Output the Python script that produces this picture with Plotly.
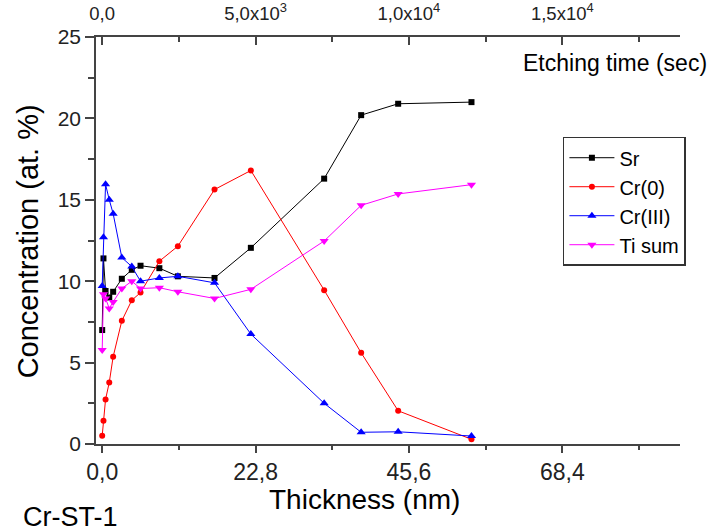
import plotly.graph_objects as go

# ---- data ----
thickness = [0, 0.19, 0.5, 1.05, 1.63, 2.92, 4.4, 5.7, 8.5, 11.25, 16.7, 22.1, 33.0, 38.5, 44.0, 54.9]
sr = [7.0, 11.4, 9.4, 9.0, 9.35, 10.15, 10.7, 10.95, 10.8, 10.3, 10.2, 12.05, 16.3, 20.2, 20.9, 21.0]
cr0 = [0.5, 1.43, 2.74, 3.78, 5.36, 7.57, 8.83, 9.3, 11.23, 12.15, 15.63, 16.8, 9.45, 5.6, 2.04, 0.29]
cr3 = [9.7, 12.7, 15.95, 15.0, 14.15, 11.45, 10.9, 10.0, 10.2, 10.3, 9.9, 6.75, 2.5, 0.72, 0.75, 0.49]
ti_sum = [5.77, 9.2, 8.94, 8.33, 8.73, 9.55, 10.0, 9.55, 9.6, 9.35, 8.94, 9.5, 12.47, 14.66, 15.36, 15.93]

bottom_ticks = [0, 22.8, 45.6, 68.4]
top_tickvals = [0, 5000, 10000, 15000]
top_ticktext = ["0,0", "5,0x10<sup>3</sup>", "1,0x10<sup>4</sup>", "1,5x10<sup>4</sup>"]
sec_per_nm = 5000 / 22.8

x_range = [-0.92, 85.9]
y_range = [0, 25]

NARROW = "Liberation Sans Narrow, Arial Narrow, Liberation Sans, Arial, sans-serif"
SANS = "Liberation Sans, Arial, sans-serif"
AX = "#444444"

fig = go.Figure()
series = [
    ("Sr", sr, "#000000", "square", 6),
    ("Cr(0)", cr0, "#FF0000", "circle", 6),
    ("Cr(III)", cr3, "#0000FF", "triangle-up", 8),
    ("Ti sum", ti_sum, "#FF00FF", "triangle-down", 8),
]
for name, vals, col, sym, sz in series:
    fig.add_trace(go.Scatter(
        x=thickness, y=vals, name=name, mode="lines+markers",
        line=dict(color=col, width=1),
        marker=dict(symbol=sym, size=sz, color=col, line=dict(width=0)),
    ))
# carrier for the top (etching time) axis
fig.add_trace(go.Scatter(x=[None], y=[None], xaxis="x2", showlegend=False, hoverinfo="skip"))

fig.update_layout(
    width=716, height=531,
    margin=dict(l=96, r=36, t=37, b=87, pad=0, autoexpand=False),
    paper_bgcolor="white", plot_bgcolor="white",
    separators=",.",
    showlegend=True,
    xaxis=dict(
        range=x_range, tickvals=bottom_ticks, tickformat=".1f", automargin=False,
        showline=True, linecolor=AX, linewidth=1.6,
        ticks="outside", ticklen=7, tickwidth=1.5, tickcolor=AX,
        minor=dict(dtick=11.4, tick0=0, ticks="outside", ticklen=4, tickwidth=1.5, tickcolor=AX),
        showgrid=False, zeroline=False,
        tickfont=dict(family=NARROW, size=23, color="#222222"),
    ),
    xaxis2=dict(
        range=[x_range[0] * sec_per_nm, x_range[1] * sec_per_nm],
        overlaying="x", side="top", anchor="y", automargin=False,
        tickvals=top_tickvals, ticktext=top_ticktext,
        showline=True, linecolor=AX, linewidth=1.6,
        ticks="inside", ticklen=8, tickwidth=1.5, tickcolor=AX,
        minor=dict(dtick=2500, tick0=0, ticks="inside", ticklen=5, tickwidth=1.5, tickcolor=AX),
        showgrid=False, zeroline=False,
        ticklabelstandoff=8,
        tickfont=dict(family=NARROW, size=18.5, color="#222222"),
    ),
    yaxis=dict(
        range=y_range, dtick=5, tick0=0, automargin=False,
        showline=True, linecolor=AX, linewidth=1.6,
        ticks="outside", ticklen=9, tickwidth=1.5, tickcolor=AX,
        minor=dict(dtick=2.5, tick0=0, ticks="outside", ticklen=6, tickwidth=1.5, tickcolor=AX),
        showgrid=False, zeroline=False,
        tickfont=dict(family=SANS, size=21, color="#222222"),
    ),
    legend=dict(
        x=0.7995, y=0.755, xanchor="left", yanchor="top",
        bgcolor="white", bordercolor="#333333", borderwidth=1.5,
        font=dict(family=SANS, size=20, color="#000000"),
        itemwidth=45,
    ),
    annotations=[
        dict(text="Thickness (nm)", xref="paper", yref="paper", x=0.4603, y=-0.1369,
             xanchor="center", yanchor="middle", showarrow=False,
             font=dict(family=NARROW, size=28, color="#000000")),
        dict(text="Concentration (at. %)", xref="paper", yref="paper", x=-0.1165, y=0.4978,
             xanchor="center", yanchor="middle", showarrow=False, textangle=-90,
             font=dict(family=SANS, size=29, color="#000000")),
        dict(text="Etching time (sec)", xref="paper", yref="paper", x=0.8886, y=0.9369,
             xanchor="center", yanchor="middle", showarrow=False,
             font=dict(family=SANS, size=23, color="#000000")),
        dict(text="Cr-ST-1", xref="paper", yref="paper", x=-0.0433, y=-0.1786,
             xanchor="center", yanchor="middle", showarrow=False,
             font=dict(family=SANS, size=27, color="#000000")),
    ],
)

fig.write_html("out.html", config={"displayModeBar": False},
               post_script="document.body.style.margin='0px';")
